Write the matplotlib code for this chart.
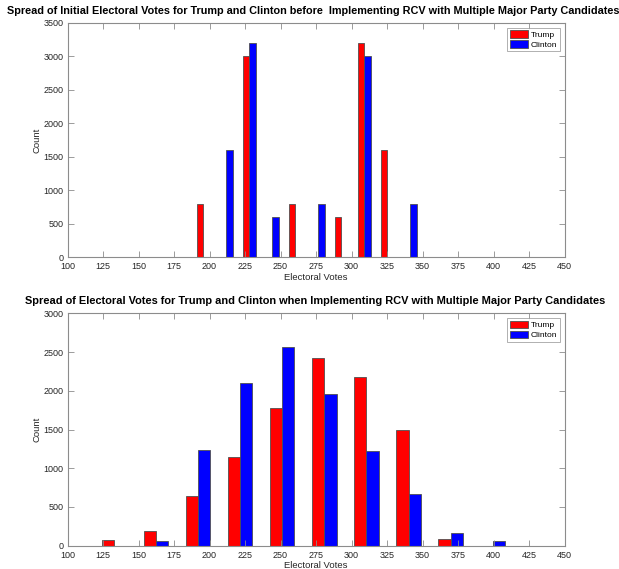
import matplotlib
matplotlib.use("Agg")
import matplotlib.pyplot as plt
import numpy as np
from matplotlib.patches import Patch

plt.rcParams['font.family'] = ['Liberation Sans', 'DejaVu Sans']

# Histogram bin centers (electoral votes) and counts per candidate
initial_bins = [195.7, 211.9, 228.1, 244.3, 260.5, 276.7, 292.9, 309.1, 325.3, 341.5]
initial_trump = [800, 0, 3000, 0, 800, 0, 600, 3200, 1600, 0]
initial_clinton = [0, 1600, 3200, 600, 0, 800, 0, 3000, 0, 800]

rcv_bins = [132.6, 162.3, 191.9, 221.6, 251.2, 280.9, 310.5, 340.2, 369.8, 399.5]
rcv_trump = [70, 190, 640, 1150, 1780, 2420, 2180, 1500, 90, 0]
rcv_clinton = [0, 55, 1240, 2100, 2560, 1960, 1220, 670, 160, 55]

x_ticks = list(range(100, 451, 25))
titles = [
    "Spread of Initial Electoral Votes for Trump and Clinton before  Implementing RCV with Multiple Major Party Candidates",
    "Spread of Electoral Votes for Trump and Clinton when Implementing RCV with Multiple Major Party Candidates",
]

W, H = 619, 569
fig = plt.figure(figsize=(W / 100, H / 100), dpi=100)

def axes_px(left, top, right, bottom):
    return fig.add_axes([left / W, 1 - bottom / H, (right - left) / W, (bottom - top) / H])

ax1 = axes_px(67.5, 22.8, 564.5, 257.3)
ax2 = axes_px(67.5, 313.3, 564.5, 545.7)

spine_c = '#8c8c8c'
text_c = '#262626'

def draw(ax, bins, trump, clinton, ymax, title, title_x, title_y, title_size, xlabelpad):
    bins = np.asarray(bins)
    spacing = (bins[-1] - bins[0]) / (len(bins) - 1)
    w = 0.29 * spacing
    ax.bar(bins - w / 2, trump, width=w, color='#ff0000', edgecolor='#505050', linewidth=0.6)
    ax.bar(bins + w / 2, clinton, width=w, color='#0000ff', edgecolor='#505050', linewidth=0.6)
    ax.set_xlim(100, 450)
    ax.set_ylim(0, ymax)
    ax.set_xticks(x_ticks)
    ax.set_yticks(np.arange(0, ymax + 1, 500))
    ax.tick_params(direction='in', top=True, right=True, length=4, width=0.6,
                   colors=spine_c, labelcolor=text_c, labelsize=6.5)
    ax.tick_params(axis='x', pad=3.5)
    ax.tick_params(axis='y', pad=3)
    for s in ax.spines.values():
        s.set_color(spine_c)
        s.set_linewidth(0.8)
    ax.set_xlabel("Electoral Votes", fontsize=6.8, color=text_c, labelpad=xlabelpad)
    ax.set_ylabel("Count", fontsize=6.8, color=text_c, labelpad=1.5)
    fig.text(title_x / W, 1 - title_y / H, title, ha='center', va='center',
             fontsize=title_size, fontweight='bold', color='black')
    handles = [Patch(facecolor='#ff0000', edgecolor='#505050', linewidth=0.6),
               Patch(facecolor='#0000ff', edgecolor='#505050', linewidth=0.6)]
    leg = ax.legend(handles, ["Trump", "Clinton"], loc='upper right', fontsize=6,
                    frameon=True, fancybox=False, borderpad=0.3, handlelength=2.2,
                    handleheight=1.0, handletextpad=0.3, labelspacing=0.15,
                    borderaxespad=0.6)
    leg.get_frame().set_edgecolor(spine_c)
    leg.get_frame().set_linewidth(0.6)

draw(ax1, initial_bins, initial_trump, initial_clinton, 3500, titles[0], 313, 11, 7.8, 1.5)
draw(ax2, rcv_bins, rcv_trump, rcv_clinton, 3000, titles[1], 315, 301, 7.95, 0.8)

fig.savefig("out.png", dpi=100)
